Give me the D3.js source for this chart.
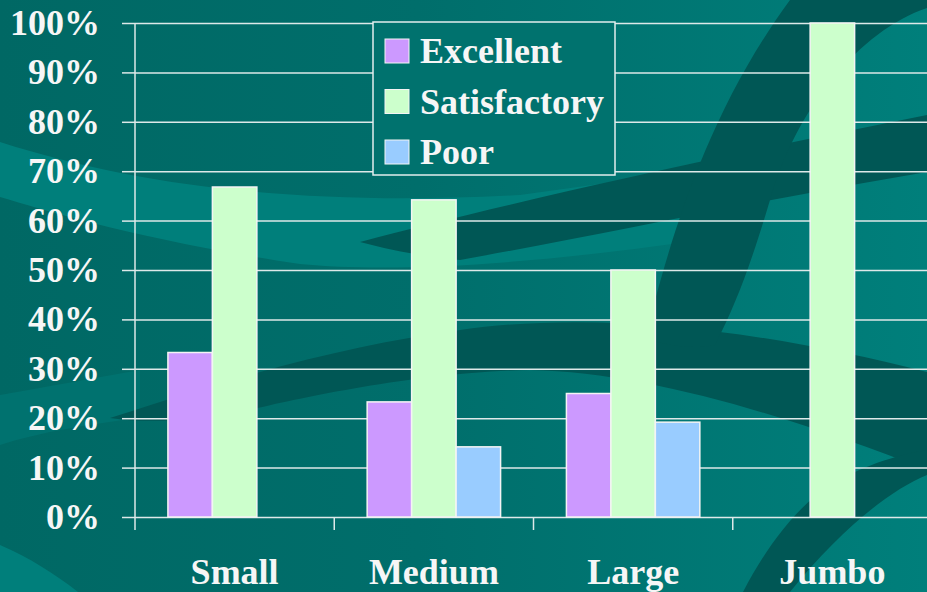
<!DOCTYPE html>
<html>
<head>
<meta charset="utf-8">
<title>Ratings by size</title>
<script src="https://d3js.org/d3.v7.min.js"></script>
<style>
  body { margin: 0; background: #006a67; }
  svg { display: block; }
  text { font-family: "Liberation Serif", "Times New Roman", serif; font-weight: bold; fill: #f6f6f6; }
</style>
</head>
<body>
<div id="chart"></div>
<script>

var w = 927, h = 592;

var categories = ['Small', 'Medium', 'Large', 'Jumbo'];
var series = ['Excellent', 'Satisfactory', 'Poor'];
var excellent = [33.3, 23.3, 25, 0];
var satisfactory = [66.8, 64.2, 50, 100];
var poor = [0, 14.2, 19.2, 0];
var yTicks = [0, 10, 20, 30, 40, 50, 60, 70, 80, 90, 100];
var colors = ['#cc99ff', '#ccffcc', '#99ccff'];

var values = [excellent, satisfactory, poor];

var svg = d3.select('#chart').append('svg')
  .attr('width', w)
  .attr('height', h);

// background: gradient + swooshes
var defs = svg.append('defs');
var grad = defs.append('linearGradient').attr('id', 'bg').attr('x1', 0).attr('x2', 1).attr('y1', 0).attr('y2', 0);
grad.append('stop').attr('offset', '0').attr('stop-color', '#006864');
grad.append('stop').attr('offset', '0.45').attr('stop-color', '#006e6b');
grad.append('stop').attr('offset', '1').attr('stop-color', '#007f7b');

svg.append('rect').attr('width', w).attr('height', h).attr('fill', 'url(#bg)');

var light = '#007f7b', dark = '#005755';
var swooshes = [
  [light, 'M0,142 C150,190 320,206 520,195 L700,170 L700,240 C550,262 400,274 300,264 C150,242 50,212 0,197 Z'],
  ['#00726f', 'M0,395 C50,386 95,378 140,370 L140,418 C90,424 40,432 0,445 Z'],
  [dark, 'M360,242 C500,205 700,160 927,115 L927,172 C760,200 600,235 460,260 C420,256 390,250 360,242 Z'],
  [dark, 'M110,418 C250,372 350,345 460,330 C600,310 760,330 927,372 L927,470 C800,420 650,372 530,370 C420,372 300,398 250,410 C200,420 150,424 110,418 Z'],
  [dark, 'M790,0 L927,0 L927,8 C860,30 795,110 770,200 C752,260 738,300 715,345 C690,350 665,345 645,338 C668,250 702,120 790,0 Z'],
  [dark, 'M743,592 C770,540 800,505 830,485 C870,462 900,455 927,450 L927,475 C890,490 840,530 790,592 Z'],
  [light, 'M0,545 C30,558 55,574 78,592 L0,592 Z']
];
svg.selectAll('path.swoosh').data(swooshes).enter().append('path')
  .attr('class', 'swoosh')
  .attr('d', function(d) { return d[1]; })
  .attr('fill', function(d) { return d[0]; });

// scales
var x = d3.scaleBand().domain(categories).range([135, 932]).padding(0);
var x1 = d3.scaleBand().domain(series).range([0, x.bandwidth()]).paddingInner(0).paddingOuter(0.74);
var y = d3.scaleLinear().domain([0, 100]).range([517, 23]);

var gridColor = '#dde9e9';

// gridlines
var grid = svg.append('g')
  .attr('transform', 'translate(135,0)')
  .call(d3.axisLeft(y).tickValues(yTicks).tickSize(-(932 - 135)).tickFormat(''));
grid.select('.domain').remove();
grid.selectAll('line').attr('stroke', gridColor).attr('stroke-width', 1.5);

// y axis with labels
var yAxis = svg.append('g')
  .attr('transform', 'translate(135,0)')
  .call(d3.axisLeft(y).tickValues(yTicks).tickSize(13).tickPadding(22).tickFormat(function(d) { return d + '%'; }));
yAxis.select('.domain').remove();
yAxis.selectAll('line').attr('stroke', gridColor).attr('stroke-width', 1.5);
yAxis.selectAll('text')
  .style('font-size', '36px')
  .style('font-family', '"Liberation Serif", "Times New Roman", serif')
  .style('font-weight', 'bold')
  .attr('fill', '#f6f6f6');

svg.append('line')
  .attr('x1', 135).attr('x2', 135)
  .attr('y1', y(100)).attr('y2', 530)
  .attr('stroke', gridColor).attr('stroke-width', 1.5);

// bars
var groups = svg.selectAll('g.cat').data(categories).enter().append('g')
  .attr('class', 'cat')
  .attr('transform', function(d) { return 'translate(' + x(d) + ',0)'; });

groups.selectAll('rect').data(function(c, ci) {
    return series.map(function(s, si) { return { s: s, si: si, v: values[si][ci] }; });
  })
  .enter().append('rect')
  .filter(function(d) { return d.v > 0; })
  .attr('x', function(d) { return x1(d.s); })
  .attr('width', x1.bandwidth())
  .attr('y', function(d) { return y(d.v); })
  .attr('height', function(d) { return y(0) - y(d.v); })
  .attr('fill', function(d) { return colors[d.si]; })
  .attr('stroke', '#f4f4f4')
  .attr('stroke-width', 1.5);

// x axis: ticks between categories and labels
var xAxis = svg.append('g')
  .attr('transform', 'translate(0,' + y(0) + ')')
  .call(d3.axisBottom(x).tickSize(0).tickPadding(0));
xAxis.select('.domain').remove();
xAxis.selectAll('text').remove();

svg.selectAll('line.xtick').data(categories.slice(1)).enter().append('line')
  .attr('class', 'xtick')
  .attr('x1', function(d) { return x(d); })
  .attr('x2', function(d) { return x(d); })
  .attr('y1', y(0)).attr('y2', 530)
  .attr('stroke', gridColor).attr('stroke-width', 1.5);

svg.selectAll('text.xlabel').data(categories).enter().append('text')
  .attr('class', 'xlabel')
  .attr('x', function(d) { return x(d) + x.bandwidth() / 2; })
  .attr('y', 584)
  .attr('text-anchor', 'middle')
  .style('font-size', '36px')
  .text(function(d) { return d; });

// legend
var legend = svg.append('g');
legend.append('rect')
  .attr('x', 373).attr('y', 22)
  .attr('width', 242).attr('height', 153)
  .attr('fill', '#00726e')
  .attr('stroke', '#e2eeee')
  .attr('stroke-width', 1.5);

var items = legend.selectAll('g.item').data(series).enter().append('g')
  .attr('class', 'item')
  .attr('transform', function(d, i) { return 'translate(0,' + (63 + i * 50.5) + ')'; });

items.append('rect')
  .attr('x', 385).attr('y', -24)
  .attr('width', 24).attr('height', 24)
  .attr('fill', function(d, i) { return colors[i]; })
  .attr('stroke', '#f4f4f4')
  .attr('stroke-width', 1);

items.append('text')
  .attr('x', 420)
  .attr('y', 0)
  .style('font-size', '36px')
  .text(function(d) { return d; });

</script>
</body>
</html>
